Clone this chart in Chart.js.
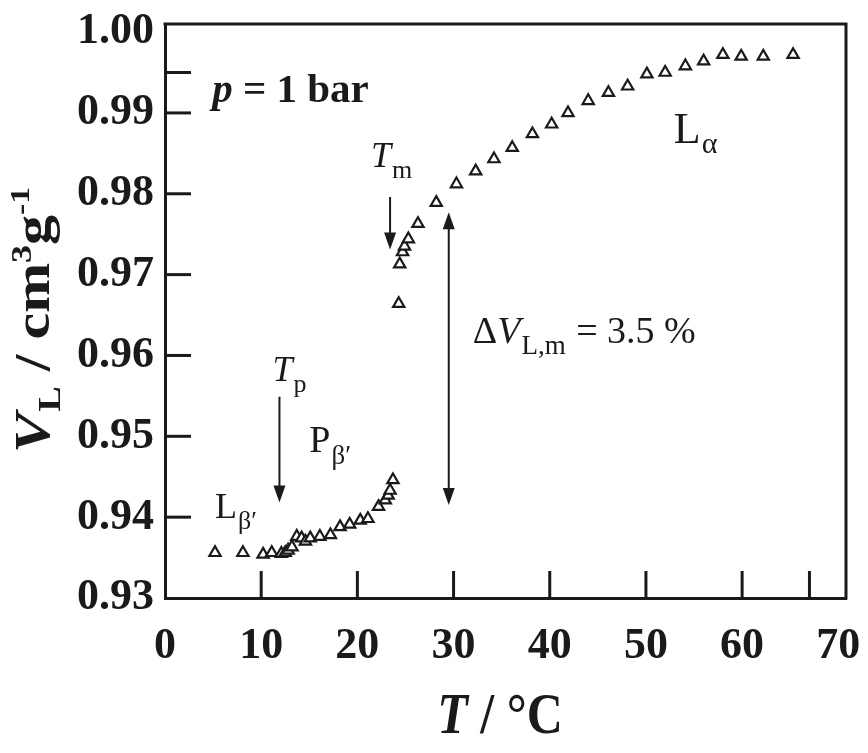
<!DOCTYPE html>
<html>
<head>
<meta charset="utf-8">
<script src="https://cdn.jsdelivr.net/npm/chart.js@4.4.1/dist/chart.umd.min.js"></script>
<style>
  html, body { margin: 0; padding: 0; background: #ffffff; }
  #wrap { width: 868px; height: 753px; }
</style>
</head>
<body>
<div id="wrap"><canvas id="c" width="868" height="753"></canvas></div>
<script>
// Temperature (°C) and specific lipid volume (cm3/g) of the measured points
const temperatureC = [
  5.2, 8.1, 10.2, 11.1, 12.1, 12.5, 12.8, 13.2, 13.7, 14.2, 14.6, 15.1, 16.1, 17.2,
  18.2, 19.2, 20.3, 21.1, 22.2, 22.9, 23.2, 23.4, 23.7,
  24.3, 24.4, 24.7, 24.9, 25.3, 26.3, 28.2, 30.3, 32.3, 34.2, 36.1, 38.2, 40.2,
  41.9, 44.0, 46.1, 48.1, 50.1, 52.0, 54.1, 56.0, 58.0, 59.9, 62.2, 65.3
];
const specificVolume = [
  0.9356, 0.9356, 0.9354, 0.9356, 0.9355, 0.9356, 0.9359, 0.9363, 0.9376, 0.9374, 0.9370, 0.9374, 0.9376, 0.9378,
  0.9388, 0.9391, 0.9396, 0.9398, 0.9413, 0.9421, 0.9427, 0.9433, 0.9446,
  0.9664, 0.9713, 0.9728, 0.9735, 0.9744, 0.9763, 0.9789, 0.9812, 0.9828, 0.9843, 0.9857, 0.9874, 0.9886,
  0.9900, 0.9915, 0.9925, 0.9933, 0.9948, 0.9950, 0.9958, 0.9964, 0.9972, 0.9970, 0.9970, 0.9972
];

// Axis tick labels and inward tick marks
const xTickLabels = [0, 10, 20, 30, 40, 50, 60, 70];
const yTickLabels = [0.93, 0.94, 0.95, 0.96, 0.97, 0.98, 0.99, 1.00];
const xTickMarks = [10, 20, 30, 40, 50, 60, 67];
const yTickMarks = [0.94, 0.95, 0.96, 0.97, 0.98, 0.99, 0.995];

// Transition temperatures and the volume jump at the main transition
const pretransitionT = 11.9;
const mainTransitionT = 23.4;
const jumpT = 29.5;
const jumpVolumes = [0.9415, 0.9777];

const SERIF = '"Liberation Serif", "Times New Roman", serif';

function drawParts(ctx, x, y, parts) {
  let cx = x;
  for (const p of parts) {
    ctx.font = p.font;
    ctx.fillText(p.t, cx, y + (p.dy || 0));
    cx += ctx.measureText(p.t).width + (p.kern || 0);
  }
  return cx - x;
}
function partsWidth(ctx, parts) {
  let w = 0;
  for (const p of parts) { ctx.font = p.font; w += ctx.measureText(p.t).width + (p.kern || 0); }
  return w;
}
function arrowHead(ctx, x, y, dir) {
  // dir: +1 pointing down, -1 pointing up
  ctx.beginPath();
  ctx.moveTo(x, y);
  ctx.lineTo(x - 6, y - dir * 17);
  ctx.lineTo(x + 6, y - dir * 17);
  ctx.closePath();
  ctx.fill();
}

const decorations = {
  id: 'decorations',
  afterDraw(chart) {
    const { ctx, chartArea: a, scales: { x, y } } = chart;
    ctx.save();
    ctx.strokeStyle = '#1a1a1a';
    ctx.fillStyle = '#1a1a1a';
    ctx.lineCap = 'butt';

    // top and right frame
    ctx.lineWidth = 3;
    ctx.beginPath();
    ctx.moveTo(a.left - 1.5, a.top);
    ctx.lineTo(a.right, a.top);
    ctx.lineTo(a.right, a.bottom + 1.5);
    ctx.stroke();

    // inward tick marks
    ctx.lineWidth = 3;
    for (const v of xTickMarks) {
      const px = x.getPixelForValue(v);
      ctx.beginPath(); ctx.moveTo(px, a.bottom); ctx.lineTo(px, a.bottom - 27); ctx.stroke();
    }
    for (const v of yTickMarks) {
      const py = y.getPixelForValue(v);
      ctx.beginPath(); ctx.moveTo(a.left, py); ctx.lineTo(a.left + 26, py); ctx.stroke();
    }

    ctx.textBaseline = 'alphabetic';
    ctx.textAlign = 'left';

    // p = 1 bar
    drawParts(ctx, x.getPixelForValue(4.9), y.getPixelForValue(0.9914), [
      { t: 'p', font: `italic bold 41px ${SERIF}` },
      { t: ' = 1 bar', font: `bold 41px ${SERIF}` }
    ]);

    // T_m with arrow
    const tmx = x.getPixelForValue(mainTransitionT);
    drawParts(ctx, tmx - 19, y.getPixelForValue(0.9833), [
      { t: 'T', font: `italic 36px ${SERIF}`, kern: 1 },
      { t: 'm', font: `26px ${SERIF}`, dy: 11 }
    ]);
    ctx.lineWidth = 2;
    const tmTop = y.getPixelForValue(0.9796), tmTip = y.getPixelForValue(0.9731);
    ctx.beginPath(); ctx.moveTo(tmx, tmTop); ctx.lineTo(tmx, tmTip - 10); ctx.stroke();
    arrowHead(ctx, tmx, tmTip, 1);

    // T_p with arrow
    const tpx = x.getPixelForValue(pretransitionT);
    drawParts(ctx, tpx - 7, y.getPixelForValue(0.9568), [
      { t: 'T', font: `italic 36px ${SERIF}`, kern: 1 },
      { t: 'p', font: `26px ${SERIF}`, dy: 11 }
    ]);
    const tpTop = y.getPixelForValue(0.9549), tpTip = y.getPixelForValue(0.9418);
    ctx.beginPath(); ctx.moveTo(tpx, tpTop); ctx.lineTo(tpx, tpTip - 10); ctx.stroke();
    arrowHead(ctx, tpx, tpTip, 1);

    // phase labels
    drawParts(ctx, x.getPixelForValue(52.9), y.getPixelForValue(0.9863), [
      { t: 'L', font: `44px ${SERIF}`, kern: 1 },
      { t: 'α', font: `30px ${SERIF}`, dy: 10 }
    ]);
    drawParts(ctx, x.getPixelForValue(15.0), y.getPixelForValue(0.9480), [
      { t: 'P', font: `38px ${SERIF}`, kern: 1 },
      { t: 'β′', font: `27px ${SERIF}`, dy: 12 }
    ]);
    drawParts(ctx, x.getPixelForValue(5.2), y.getPixelForValue(0.9399), [
      { t: 'L', font: `36px ${SERIF}`, kern: 1 },
      { t: 'β′', font: `26px ${SERIF}`, dy: 11 }
    ]);

    // volume jump with double arrow
    const jx = x.getPixelForValue(jumpT);
    const jLow = y.getPixelForValue(jumpVolumes[0]), jHigh = y.getPixelForValue(jumpVolumes[1]);
    ctx.beginPath(); ctx.moveTo(jx, jHigh + 10); ctx.lineTo(jx, jLow - 10); ctx.stroke();
    arrowHead(ctx, jx, jHigh, -1);
    arrowHead(ctx, jx, jLow, 1);
    drawParts(ctx, x.getPixelForValue(32.0), y.getPixelForValue(0.9616), [
      { t: 'Δ', font: `38px ${SERIF}` },
      { t: 'V', font: `italic 38px ${SERIF}`, kern: 1 },
      { t: 'L,m', font: `27px ${SERIF}`, dy: 11, kern: 1 },
      { t: ' = 3.5 %', font: `38px ${SERIF}` }
    ]);

    // x axis title
    const xt = [
      { t: 'T', font: `italic bold 50px ${SERIF}` },
      { t: ' / °C', font: `bold 50px ${SERIF}` }
    ];
    const xw = partsWidth(ctx, xt);
    ctx.save();
    ctx.translate(500, 733);
    ctx.scale(1, 1.15);
    drawParts(ctx, -xw / 2, 0, xt);
    ctx.restore();

    // y axis title, rotated and reading upwards
    const yt = [
      { t: 'V', font: `italic bold 50px ${SERIF}`, kern: 1 },
      { t: 'L', font: `bold 32px ${SERIF}`, dy: 11 },
      { t: ' / cm', font: `bold 50px ${SERIF}` },
      { t: '3', font: `bold 30px ${SERIF}`, dy: -18 },
      { t: 'g', font: `bold 50px ${SERIF}` },
      { t: '-1', font: `bold 28px ${SERIF}`, dy: -20 }
    ];
    ctx.translate(49, 453);
    ctx.rotate(-Math.PI / 2);
    ctx.scale(1.2, 1);
    drawParts(ctx, 0, 0, yt);

    ctx.restore();
  }
};

new Chart(document.getElementById('c'), {
  type: 'scatter',
  data: {
    datasets: [{
      data: temperatureC.map((t, i) => ({ x: t, y: specificVolume[i] })),
      pointStyle: 'triangle',
      pointRadius: 6.5,
      pointHoverRadius: 6.5,
      pointBorderWidth: 2.2,
      pointBorderColor: '#1a1a1a',
      pointBackgroundColor: '#ffffff',
      showLine: false
    }]
  },
  options: {
    responsive: false,
    animation: false,
    layout: { padding: { left: 0, right: 22, top: 24, bottom: 0 } },
    plugins: { legend: { display: false }, tooltip: { enabled: false } },
    scales: {
      x: {
        type: 'linear',
        min: 0,
        max: 70.8,
        afterBuildTicks: s => { s.ticks = xTickLabels.map(v => ({ value: v })); },
        afterFit: s => { s.height = 155; s.paddingLeft = 0; s.paddingRight = 0; },
        grid: { display: false, drawTicks: false },
        border: { display: true, color: '#1a1a1a', width: 3 },
        ticks: {
          color: '#1a1a1a',
          padding: 22,
          maxRotation: 0,
          autoSkip: false,
          font: { family: SERIF, size: 44, weight: 'bold' },
          callback: v => String(v)
        }
      },
      y: {
        type: 'linear',
        min: 0.93,
        max: 1.001,
        afterBuildTicks: s => { s.ticks = yTickLabels.map(v => ({ value: v })); },
        afterFit: s => { s.width = 165; s.paddingTop = 0; s.paddingBottom = 0; },
        grid: { display: false, drawTicks: false },
        border: { display: true, color: '#1a1a1a', width: 3 },
        ticks: {
          color: '#1a1a1a',
          padding: 11,
          autoSkip: false,
          font: { family: SERIF, size: 44, weight: 'bold' },
          callback: v => v.toFixed(2)
        }
      }
    }
  },
  plugins: [decorations]
});
</script>
</body>
</html>
